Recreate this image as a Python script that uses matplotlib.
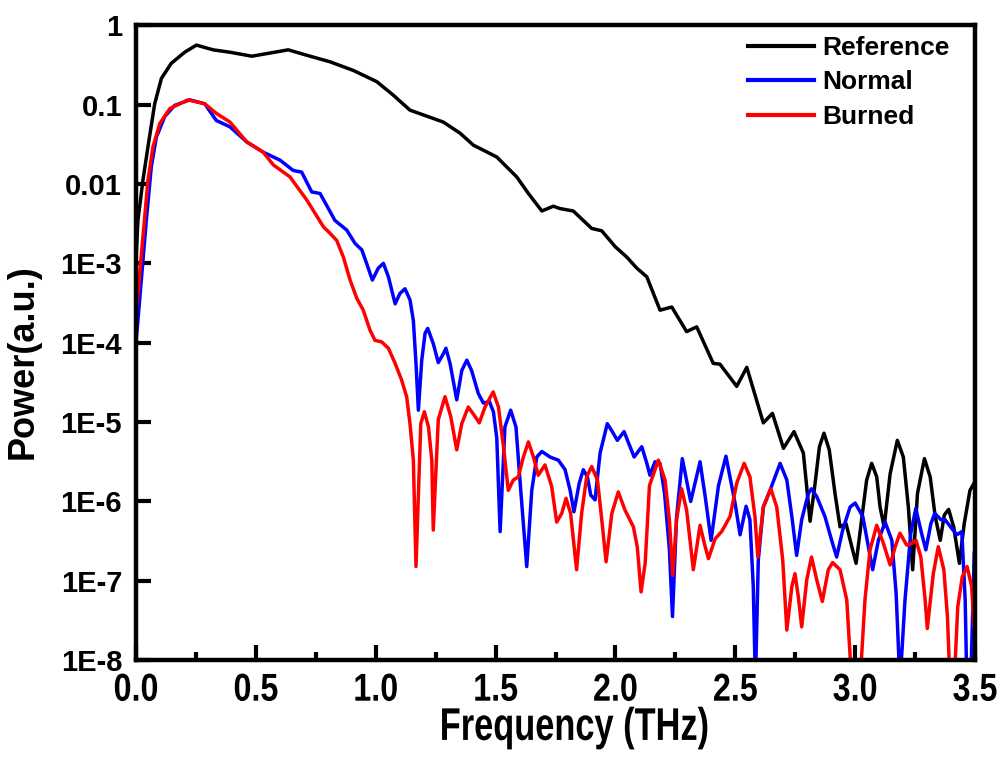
import numpy as np
import matplotlib
matplotlib.use('Agg')
import matplotlib.pyplot as plt
from matplotlib import patheffects
from matplotlib.transforms import Affine2D

# data: frequency (THz) and log10 of power (a.u.)
ref_freq = [0.000, 0.008, 0.029, 0.050, 0.078, 0.106, 0.147, 0.203, 0.252, 0.322,
            0.392, 0.483, 0.559, 0.635, 0.726, 0.809, 0.907, 1.004, 1.073, 1.143,
            1.199, 1.282, 1.352, 1.407, 1.505, 1.588, 1.637, 1.693, 1.741, 1.769,
            1.824, 1.901, 1.943, 1.999, 2.047, 2.089, 2.131, 2.186, 2.235, 2.297,
            2.339, 2.408, 2.436, 2.506, 2.548, 2.617, 2.655, 2.701, 2.745, 2.784,
            2.812, 2.833, 2.851, 2.870, 2.892, 2.916, 2.937, 2.962, 2.986, 3.004,
            3.027, 3.048, 3.069, 3.090, 3.104, 3.121, 3.146, 3.176, 3.201, 3.222,
            3.240, 3.260, 3.289, 3.313, 3.334, 3.355, 3.372, 3.390, 3.411, 3.435,
            3.455, 3.479, 3.500]
ref_logp = [-2.95, -2.46, -1.95, -1.53, -0.99, -0.67, -0.48, -0.34, -0.25, -0.31,
            -0.34, -0.39, -0.35, -0.31, -0.39, -0.46, -0.57, -0.71, -0.88, -1.07,
            -1.13, -1.22, -1.36, -1.51, -1.66, -1.91, -2.12, -2.34, -2.28, -2.31,
            -2.34, -2.56, -2.59, -2.79, -2.92, -3.06, -3.17, -3.59, -3.55, -3.86,
            -3.80, -4.26, -4.27, -4.55, -4.31, -5.01, -4.89, -5.33, -5.12, -5.39,
            -6.25, -5.77, -5.31, -5.14, -5.35, -5.90, -6.32, -6.28, -6.57, -6.78,
            -6.23, -5.73, -5.52, -5.69, -6.07, -6.32, -5.65, -5.23, -5.44, -6.07,
            -6.86, -5.90, -5.46, -5.69, -6.19, -6.49, -6.17, -6.10, -6.32, -6.78,
            -6.28, -5.86, -5.75]

norm_freq = [0.000, 0.008, 0.022, 0.043, 0.064, 0.085, 0.120, 0.161, 0.224, 0.287,
             0.335, 0.392, 0.462, 0.531, 0.601, 0.656, 0.691, 0.733, 0.768, 0.830,
             0.879, 0.914, 0.942, 0.962, 0.986, 1.011, 1.032, 1.053, 1.081, 1.101,
             1.122, 1.143, 1.157, 1.168, 1.178, 1.192, 1.206, 1.217, 1.240, 1.261,
             1.282, 1.293, 1.310, 1.338, 1.359, 1.380, 1.400, 1.428, 1.449, 1.474,
             1.491, 1.505, 1.519, 1.539, 1.563, 1.585, 1.605, 1.630, 1.651, 1.672,
             1.693, 1.727, 1.762, 1.790, 1.811, 1.827, 1.849, 1.866, 1.883, 1.897,
             1.915, 1.936, 1.966, 1.987, 2.008, 2.036, 2.061, 2.078, 2.110, 2.131,
             2.144, 2.165, 2.186, 2.205, 2.225, 2.238, 2.255, 2.279, 2.314, 2.353,
             2.375, 2.399, 2.430, 2.461, 2.499, 2.520, 2.545, 2.561, 2.575, 2.584,
             2.596, 2.617, 2.645, 2.687, 2.715, 2.736, 2.756, 2.777, 2.805, 2.818,
             2.840, 2.874, 2.902, 2.923, 2.948, 2.979, 3.000, 3.032, 3.055, 3.073,
             3.097, 3.125, 3.153, 3.171, 3.187, 3.208, 3.232, 3.253, 3.277, 3.295,
             3.316, 3.332, 3.358, 3.375, 3.403, 3.424, 3.445, 3.459, 3.466, 3.482,
             3.497]
norm_logp = [-3.99, -3.72, -3.21, -2.46, -1.78, -1.41, -1.15, -1.01, -0.94, -0.99,
             -1.20, -1.28, -1.47, -1.60, -1.70, -1.83, -1.85, -2.10, -2.12, -2.46,
             -2.58, -2.75, -2.83, -3.00, -3.21, -3.06, -3.00, -3.17, -3.51, -3.38,
             -3.32, -3.46, -3.72, -4.26, -4.85, -4.22, -3.88, -3.82, -4.01, -4.25,
             -4.14, -4.07, -4.26, -4.72, -4.35, -4.22, -4.35, -4.64, -4.76, -4.74,
             -4.87, -5.20, -6.38, -5.06, -4.85, -5.06, -5.86, -6.82, -5.86, -5.44,
             -5.37, -5.44, -5.48, -5.60, -5.86, -6.13, -5.77, -5.60, -5.69, -5.92,
             -5.98, -5.39, -5.02, -5.12, -5.23, -5.12, -5.31, -5.44, -5.31, -5.52,
             -5.67, -5.50, -5.52, -5.90, -6.60, -7.45, -6.20, -5.46, -6.00, -5.50,
             -5.95, -6.49, -5.80, -5.43, -6.02, -6.42, -6.06, -6.23, -7.07, -8.30,
             -6.74, -6.07, -5.86, -5.52, -5.73, -6.19, -6.68, -6.23, -5.90, -5.84,
             -5.94, -6.19, -6.49, -6.70, -6.36, -6.07, -6.02, -6.19, -6.57, -6.86,
             -6.49, -6.26, -6.49, -7.16, -8.30, -7.24, -6.40, -6.09, -6.40, -6.61,
             -6.28, -6.15, -6.23, -6.23, -6.34, -6.42, -6.38, -7.24, -8.30, -8.30,
             -6.65]

burn_freq = [0.000, 0.008, 0.029, 0.050, 0.071, 0.099, 0.141, 0.217, 0.287, 0.335,
             0.392, 0.462, 0.531, 0.573, 0.642, 0.712, 0.782, 0.809, 0.837, 0.865,
             0.893, 0.921, 0.948, 0.976, 0.997, 1.025, 1.053, 1.081, 1.108, 1.129,
             1.143, 1.157, 1.168, 1.188, 1.203, 1.220, 1.234, 1.240, 1.261, 1.289,
             1.313, 1.338, 1.359, 1.386, 1.410, 1.432, 1.456, 1.490, 1.512, 1.533,
             1.553, 1.574, 1.595, 1.616, 1.637, 1.658, 1.678, 1.706, 1.734, 1.755,
             1.776, 1.794, 1.813, 1.838, 1.859, 1.880, 1.901, 1.925, 1.943, 1.961,
             1.985, 2.012, 2.040, 2.075, 2.091, 2.107, 2.124, 2.142, 2.179, 2.207,
             2.225, 2.239, 2.255, 2.276, 2.297, 2.325, 2.353, 2.371, 2.388, 2.416,
             2.443, 2.478, 2.506, 2.537, 2.561, 2.582, 2.594, 2.617, 2.648, 2.673,
             2.698, 2.715, 2.736, 2.749, 2.763, 2.777, 2.798, 2.818, 2.840, 2.863,
             2.888, 2.906, 2.937, 2.965, 2.986, 3.020, 3.041, 3.062, 3.090, 3.118,
             3.146, 3.167, 3.187, 3.215, 3.236, 3.254, 3.274, 3.292, 3.301, 3.326,
             3.347, 3.370, 3.385, 3.396, 3.413, 3.428, 3.447, 3.467, 3.486, 3.496]
burn_logp = [-3.63, -3.38, -2.67, -1.95, -1.53, -1.24, -1.05, -0.94, -0.99, -1.11,
             -1.22, -1.47, -1.60, -1.76, -1.91, -2.20, -2.54, -2.62, -2.71, -2.92,
             -3.21, -3.44, -3.59, -3.84, -3.97, -3.99, -4.07, -4.26, -4.47, -4.68,
             -5.02, -5.48, -6.82, -5.02, -4.87, -5.06, -5.48, -6.36, -4.97, -4.68,
             -4.93, -5.35, -5.02, -4.81, -4.91, -5.01, -4.81, -4.62, -4.81, -5.31,
             -5.86, -5.73, -5.69, -5.44, -5.25, -5.44, -5.67, -5.54, -5.81, -6.26,
             -6.15, -5.96, -6.15, -6.86, -6.15, -5.69, -5.56, -5.73, -6.23, -6.76,
             -6.15, -5.88, -6.11, -6.32, -6.57, -7.14, -6.78, -5.80, -5.48, -5.73,
             -6.23, -6.93, -6.23, -5.84, -6.11, -6.86, -6.30, -6.53, -6.72, -6.47,
             -6.38, -6.19, -5.77, -5.52, -5.69, -6.19, -6.70, -6.07, -5.84, -6.07,
             -6.74, -7.62, -7.07, -6.91, -7.20, -7.58, -6.99, -6.70, -6.99, -7.26,
             -6.86, -6.77, -6.86, -7.24, -8.30, -8.30, -7.24, -6.61, -6.30, -6.53,
             -6.80, -6.57, -6.40, -6.55, -6.53, -6.49, -6.70, -7.24, -7.60, -6.91,
             -6.57, -6.86, -7.45, -8.30, -8.30, -7.33, -6.95, -6.82, -7.07, -7.58]

ytick_vals = [1, 0.1, 0.01, 1e-3, 1e-4, 1e-5, 1e-6, 1e-7, 1e-8]
ytick_labels = ['1', '0.1', '0.01', '1E-3', '1E-4', '1E-5', '1E-6', '1E-7', '1E-8']
xtick_vals = [0.0, 0.5, 1.0, 1.5, 2.0, 2.5, 3.0, 3.5]


class Squeeze(patheffects.AbstractPathEffect):
    # narrow the glyphs around their centre, to look like Arial Narrow
    def __init__(self, sx):
        super().__init__()
        self.sx = sx

    def draw_path(self, renderer, gc, tpath, affine, rgbFace=None):
        ext = tpath.get_extents()
        cx = (ext.x0 + ext.x1) / 2
        t = Affine2D().translate(-cx, 0).scale(self.sx, 1).translate(cx, 0) + affine
        renderer.draw_path(gc, tpath, t, rgbFace)


fig = plt.figure(figsize=(10, 7.65), dpi=100)
ax = fig.add_axes([0.136, 0.137, 0.839, 0.830])

ax.semilogy(ref_freq, 10 ** np.array(ref_logp), color='black', lw=2.5, label='Reference')
ax.semilogy(norm_freq, 10 ** np.array(norm_logp), color='blue', lw=2.5, label='Normal')
ax.semilogy(burn_freq, 10 ** np.array(burn_logp), color='red', lw=2.5, label='Burned')

ax.set_xlim(0, 3.5)
ax.set_ylim(1e-8, 1)

ax.set_yticks(ytick_vals)
ax.set_yticklabels(ytick_labels, fontsize=21, fontweight='bold', family='Liberation Sans')
ax.yaxis.set_minor_locator(matplotlib.ticker.NullLocator())
ax.set_xticks(xtick_vals)
ax.set_xticks(np.arange(0.25, 3.5, 0.5), minor=True)
ax.set_xticklabels(['%.1f' % v for v in xtick_vals], fontsize=28, fontweight='bold',
                   family='Liberation Sans')
for t in ax.xaxis.get_major_ticks():
    t.label1.set_path_effects([Squeeze(0.83)])

ax.tick_params(which='major', direction='in', length=11, width=3, top=False, right=False)
ax.tick_params(axis='x', which='major', pad=9)
ax.tick_params(axis='y', which='major', pad=10)
ax.tick_params(which='minor', direction='in', length=6, width=3, top=False, right=False)
for s in ax.spines.values():
    s.set_linewidth(3.2)

xl = ax.set_xlabel('Frequency (THz)', fontsize=33, fontweight='bold', family='Liberation Sans')
xl.set_path_effects([Squeeze(0.75)])
ax.xaxis.set_label_coords(0.5226, -0.072)
ax.set_ylabel('Power(a.u.)', fontsize=26, fontweight='bold', family='Liberation Sans')
ax.yaxis.set_label_coords(-0.114, 0.47)

leg = ax.legend(loc='upper right', bbox_to_anchor=(0.982, 1.0), frameon=False,
                handlelength=2.5, handletextpad=0.3, labelspacing=0.4, borderaxespad=0,
                prop={'family': 'Liberation Sans', 'weight': 'bold', 'size': 19})
for line in leg.get_lines():
    line.set_linewidth(3)

plt.savefig('out.png', dpi=100)
